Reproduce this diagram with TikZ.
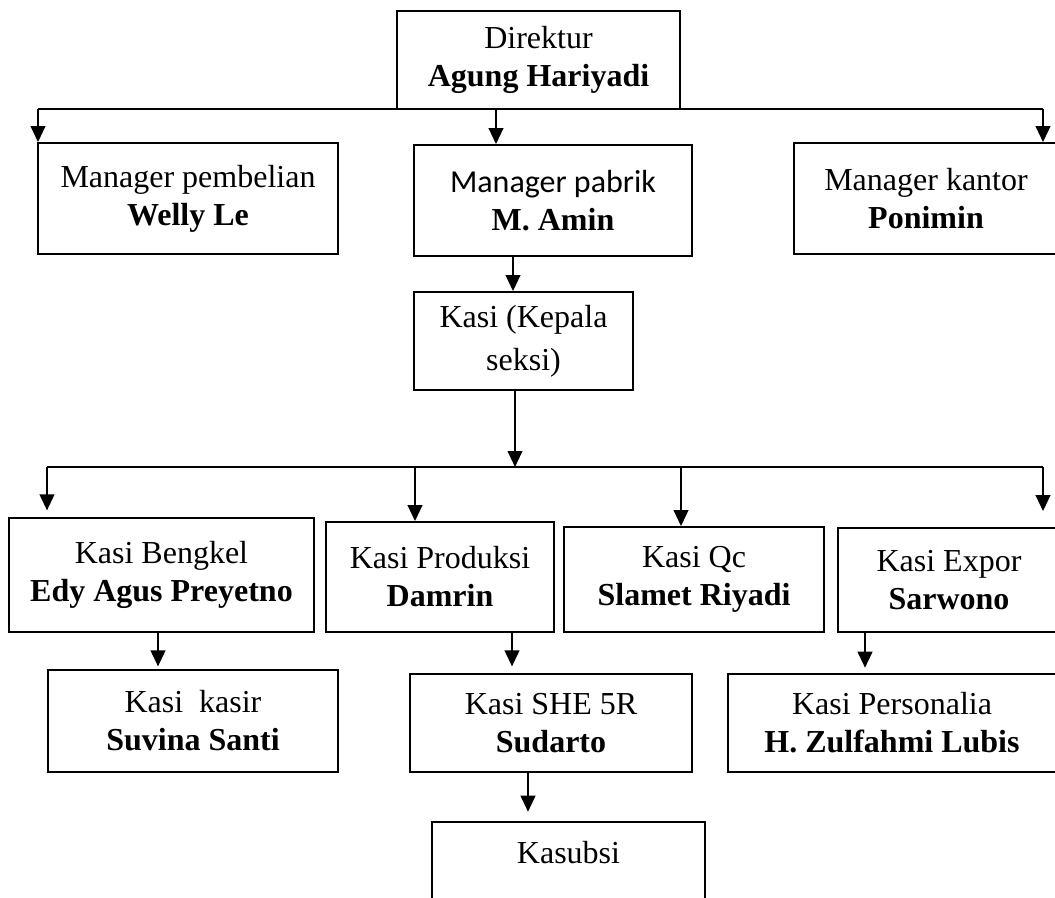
\documentclass[tikz,border=0pt]{standalone}
\usepackage{fontspec}
\setmainfont{Liberation Serif}
\newfontfamily\calibrifont{Carlito}
\usetikzlibrary{arrows.meta}

\begin{document}
\begin{tikzpicture}[x=0.75pt, y=-0.75pt,
    orgbox/.style={draw, line width=1.4pt, inner sep=0pt, align=center,
      font=\fontsize{24}{28.5}\selectfont},
    conn/.style={line width=1.5pt},
    arr/.style={line width=1.5pt, -{Triangle[length=12pt, width=11pt]}}]
    \useasboundingbox (0,0) rectangle (1055,898);
    \clip (0,0) rectangle (1055,898);

    % Direktur
    \node[orgbox, minimum width=212.25pt, minimum height=73.5pt] (dir) at (538.5,60) {Direktur\\\textbf{Agung Hariyadi}};

    % Managers
    \node[orgbox, minimum width=225pt, minimum height=83.25pt] (mpb) at (188,198.5) {Manager pembelian\\\textbf{Welly Le}};
    \node[orgbox, minimum width=208.5pt, minimum height=83.25pt] (mpa) at (553,200.5) {{\calibrifont Manager pabrik}\\\textbf{M. Amin}};
    \node[orgbox, minimum width=198pt, minimum height=83.25pt] (mka) at (926,198.5) {Manager kantor\\\textbf{Ponimin}};

    % Kasi
    \node[orgbox, minimum width=164.25pt, minimum height=73.5pt, font=\fontsize{24}{32}\selectfont] (kasi) at (523.5,341) {Kasi (Kepala\\seksi)};

    % Kasi row
    \node[orgbox, minimum width=228.75pt, minimum height=85.5pt] (bkl) at (161.5,575) {Kasi Bengkel\\\textbf{Edy Agus Preyetno}};
    \node[orgbox, minimum width=171pt, minimum height=82.5pt] (prd) at (440,577) {Kasi Produksi\\\textbf{Damrin}};
    \node[orgbox, minimum width=195pt, minimum height=78.75pt] (qc) at (694,579.5) {Kasi Qc\\\textbf{Slamet Riyadi}};
    \node[orgbox, minimum width=166.5pt, minimum height=78pt] (exp) at (949,580) {Kasi Expor\\\textbf{Sarwono}};

    % Lower row
    \node[orgbox, minimum width=217.5pt, minimum height=76.5pt] (ksr) at (193,721) {Kasi\ \ kasir\\\textbf{Suvina Santi}};
    \node[orgbox, minimum width=211.5pt, minimum height=73.5pt] (she) at (551,723) {Kasi SHE 5R\\\textbf{Sudarto}};
    \node[orgbox, minimum width=246pt, minimum height=73.5pt] (per) at (892,723) {Kasi Personalia\\\textbf{H. Zulfahmi Lubis}};

    % Kasubsi
    \node[orgbox, minimum width=204.75pt, minimum height=81pt] (ksb) at (568.5,876) {};
    \node[orgbox, draw=none] (ksbt) at (568.5,853) {Kasubsi};

    % Direktur to managers
    \coordinate (b1l) at (38,109);
    \coordinate (b1m) at (496,109);
    \coordinate (b1r) at (1043,109);
    \draw[conn] (b1l) -- (b1r);
    \draw[arr] (b1l) -- (b1l |- mpb.north);
    \draw[arr] (b1m) -- (b1m |- mpa.north);
    \draw[arr] (b1r) -- (b1r |- mka.north);

    % Manager pabrik to Kasi
    \coordinate (m2) at (513,0);
    \draw[arr] (m2 |- mpa.south) -- (m2 |- kasi.north);

    % Kasi to kasi row
    \coordinate (b2c) at (515,467);
    \coordinate (b2l) at (47,467);
    \coordinate (b2p) at (415,467);
    \coordinate (b2q) at (681,467);
    \coordinate (b2r) at (1043,467);
    \draw[arr] (b2c |- kasi.south) -- (b2c);
    \draw[conn] (b2l) -- (b2r);
    \draw[arr, shorten >=5pt] (b2l) -- (b2l |- bkl.north);
    \draw[arr] (b2p) -- (b2p |- prd.north);
    \draw[arr] (b2q) -- (b2q |- qc.north);
    \draw[arr, shorten >=12pt] (b2r) -- (b2r |- exp.north);

    % Kasi row to lower row
    \coordinate (k1) at (158,0);
    \coordinate (k2) at (512,0);
    \coordinate (k3) at (865,0);
    \coordinate (k4) at (528,0);
    \draw[arr, shorten >=2pt] (k1 |- bkl.south) -- (k1 |- ksr.north);
    \draw[arr, shorten >=5pt] (k2 |- prd.south) -- (k2 |- she.north);
    \draw[arr, shorten >=4pt] (k3 |- exp.south) -- (k3 |- per.north);
    \draw[arr, shorten >=7pt] (k4 |- she.south) -- (k4 |- ksb.north);
\end{tikzpicture}
\end{document}
